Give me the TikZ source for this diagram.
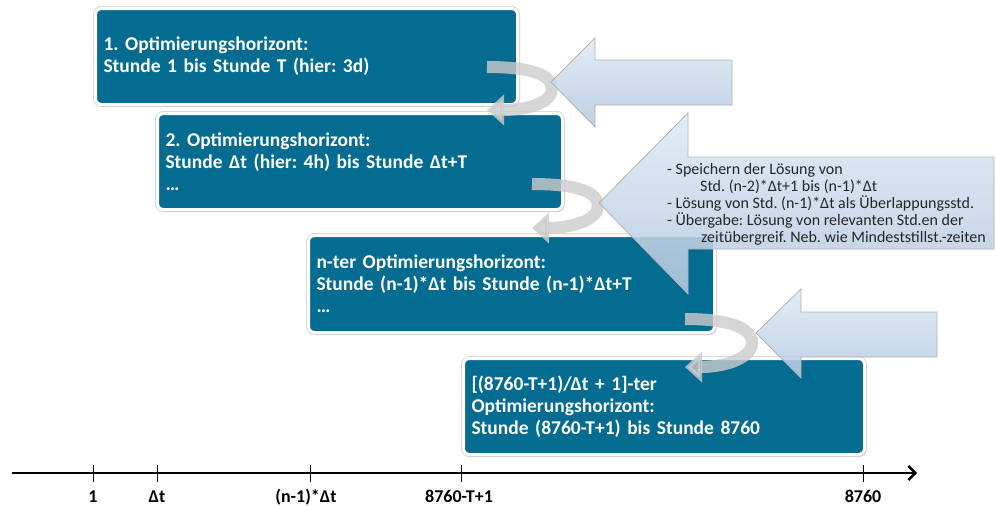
\documentclass[tikz,border=0pt]{standalone}
\usepackage{fontspec}
\setmainfont{Carlito}
\frenchspacing
\usetikzlibrary{arrows.meta,shadows}

\definecolor{boxblue}{RGB}{4,108,144}
\definecolor{arrowtop}{RGB}{224,233,244}
\definecolor{arrowbot}{RGB}{180,201,225}

\begin{document}
\begin{tikzpicture}[x=1pt,y=-1pt,
        horizon/.style={draw=white,line width=3pt,fill=boxblue,rounded corners=6pt,
            anchor=north west,text=white,align=left,inner xsep=8pt,
            font=\bfseries\fontsize{19.5}{22}\selectfont,
            preaction={draw=gray!30,line width=5pt},
            drop shadow={shadow xshift=1.5pt,shadow yshift=-2pt,opacity=0.25}},
        bigarrow/.style={draw=gray!60,line width=0.8pt,top color=arrowtop,
            bottom color=arrowbot,fill opacity=0.88},
        curl/.style={line width=12pt,draw=gray!40,opacity=0.8,
            -{Triangle[length=17pt,width=30pt]}},
        timeline/.style={line width=2.4pt,-{Straight Barb[length=7pt,width=14pt]}},
        tick/.style={line width=0.9pt},
        ticklabel/.style={anchor=base,font=\bfseries\fontsize{18}{20}\selectfont}]
    \useasboundingbox (0,0) rectangle (996,506);

    % optimisation horizons
    \node[horizon,text width=406pt,minimum height=96pt] (b1) at (94,7)
        {1. Optimierungshorizont:\\Stunde 1 bis Stunde T (hier: 3d)};
    \node[horizon,text width=389pt,minimum height=96pt] (b2) at (156,112)
        {2. Optimierungshorizont:\\Stunde Δt (hier: 4h) bis Stunde Δt+T\\…};
    \node[horizon,text width=390pt,minimum height=97pt] (b3) at (307,234)
        {n-ter Optimierungshorizont:\\Stunde (n-1)*Δt bis Stunde (n-1)*Δt+T\\…};
    \node[horizon,text width=385pt,minimum height=96pt] (b4) at (462,357)
        {[(8760-T+1)/Δt + 1]-ter\\Optimierungshorizont:\\Stunde (8760-T+1) bis Stunde 8760};

    % hand-over curls
    \draw[curl,shift={(487,67)}] (0,0) .. controls (45,0) and (65,8) .. (65,22)
        .. controls (65,36) and (40,43) .. (0,43);
    \draw[curl,shift={(532,184)}] (0,0) .. controls (45,0) and (66,8) .. (66,22)
        .. controls (66,36) and (40,44) .. (0,44);
    \draw[curl,shift={(685,319)}] (0,0) .. controls (45,0) and (67,9) .. (67,24)
        .. controls (67,39) and (40,48) .. (0,48);

    % block arrows
    \draw[bigarrow] (551,82) -- (595,38) -- (595,60) -- (732,60) -- (732,105)
        -- (595,105) -- (595,127) -- cycle;
    \draw[bigarrow] (599,203) -- (688,113) -- (688,157) -- (994,157) -- (994,249)
        -- (688,249) -- (688,294) -- cycle;
    \draw[bigarrow] (756,333) -- (801,289) -- (801,312) -- (937,312) -- (937,357)
        -- (801,357) -- (801,378) -- cycle;

    \node[anchor=north west,inner sep=0pt,align=left,text=black!85,
        font=\fontsize{16}{17}\selectfont] (notes) at (667,163)
        {- Speichern der Lösung von\\
         \hspace*{33pt}Std. (n-2)*Δt+1 bis (n-1)*Δt\\
         - Lösung von Std. (n-1)*Δt als Überlappungsstd.\\
         - Übergabe: Lösung von relevanten Std.en der\\
         \hspace*{34pt}zeitübergreif. Neb. wie Mindeststillst.-zeiten};

    % time axis
    \coordinate (origin) at (12,473);
    \coordinate (end) at (917,473);
    \draw[timeline] (origin) -- (end);

    \node[ticklabel] (l1) at (93,502) {1};
    \node[ticklabel] (l2) at (157,502) {Δt};
    \node[ticklabel] (l3) at (306,502) {(n-1)*Δt};
    \node[ticklabel] (l4) at (459,502) {8760-T+1};
    \node[ticklabel] (l5) at (863,502) {8760};

    \draw[tick] (93,465) -- (93,482);
    \draw[tick] (157,465) -- (157,482);
    \draw[tick] (310,465) -- (310,482);
    \draw[tick] (461,465) -- (461,482);
    \draw[tick] (863,465) -- (863,482);
\end{tikzpicture}
\end{document}
